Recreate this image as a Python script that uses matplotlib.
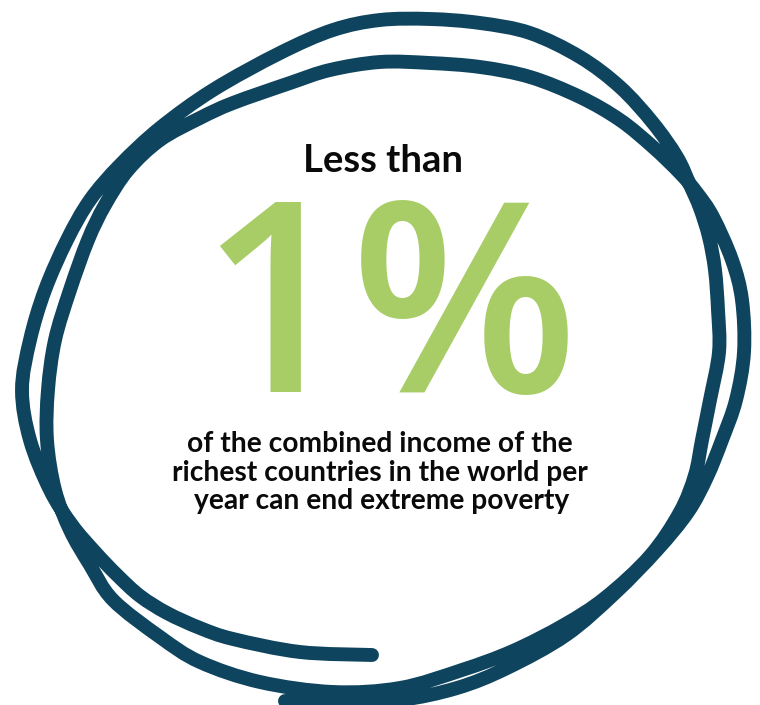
import matplotlib
matplotlib.use("Agg")
import matplotlib.pyplot as plt
from matplotlib.path import Path
from matplotlib.patches import PathPatch
import numpy as np

# text content
headline = "Less than"
big_value = "1%"
body_lines = ["of the combined income of the",
              "richest countries in the world per",
              "year can end extreme poverty"]

# hand drawn scribble, traced as one stroke (pixel coords, y down)
scribble = [(285, 701), (340, 702), (400, 700), (457, 688), (507, 668), (566, 635), (615, 593),
            (657, 550), (688, 512), (707, 477), (722, 440), (736, 400), (744, 352), (742, 300),
            (732, 260), (713, 217), (697, 193), (680, 173), (653, 147), (620, 120), (580, 97),
            (530, 77), (480, 67), (430, 63), (380, 62), (330, 70), (290, 83), (233, 103),
            (200, 118), (160, 140), (128, 170), (105, 205), (88, 240), (70, 290), (55, 340),
            (48, 390), (47, 440), (55, 490), (70, 530), (90, 565), (113, 600), (160, 637),
            (200, 662), (260, 682), (333, 692), (400, 688), (462, 670), (513, 651), (564, 625),
            (605, 598), (650, 556), (680, 512), (695, 475), (702, 440), (710, 400), (719, 352),
            (718, 310), (715, 270), (709, 237), (700, 208), (690, 185), (677, 157), (653, 123),
            (620, 87), (580, 57), (530, 33), (480, 23), (430, 19), (380, 20), (333, 30),
            (280, 53), (213, 90), (160, 128), (120, 165), (90, 200), (67, 240), (45, 290),
            (30, 340), (22, 390), (30, 440), (50, 490), (72, 525), (95, 552), (117, 575),
            (140, 596), (167, 613), (200, 628), (233, 639), (300, 652), (372, 655)]

navy = "#0e445e"
green = "#a8cd66"

fig = plt.figure(figsize=(7.6, 7.05), dpi=100)
ax = fig.add_axes([0, 0, 1, 1])
ax.set_xlim(0, 760)
ax.set_ylim(705, 0)
ax.axis("off")

# smooth path through the traced points (catmull-rom -> cubic bezier)
pts = np.array(scribble, dtype=float)
verts = [pts[0]]
codes = [Path.MOVETO]
n = len(pts)
for i in range(n - 1):
    p0 = pts[max(i - 1, 0)]
    p1 = pts[i]
    p2 = pts[i + 1]
    p3 = pts[min(i + 2, n - 1)]
    verts += [p1 + (p2 - p0) / 6, p2 - (p3 - p1) / 6, p2]
    codes += [Path.CURVE4] * 3
ax.add_patch(PathPatch(Path(verts, codes), fill=False, edgecolor=navy,
                       linewidth=10, capstyle="round", joinstyle="round"))

fig.canvas.draw()
renderer = fig.canvas.get_renderer()


def fit_text(x, y, s, width, family, weight, color):
    t = ax.text(x, y, s, ha="center", va="baseline", fontsize=20,
                family=family, weight=weight, color=color)
    w = t.get_window_extent(renderer).width
    t.set_fontsize(20 * width / w)
    return t


fit_text(383, 172, headline, 160, ["Lato", "DejaVu Sans"], "bold", "#0a0a0a")
fit_text(389, 392, big_value, 378, ["Open Sans", "DejaVu Sans"], "semibold", green)

t = fit_text(380, 452, body_lines[1], 415, ["Lato", "DejaVu Sans"], "bold", "#0a0a0a")
fs = t.get_fontsize()
t.remove()
for yy, line, xx in zip([452, 480.5, 508.5], body_lines, [380, 380, 382]):
    ax.text(xx, yy, line, ha="center", va="baseline", fontsize=fs,
            family=["Lato", "DejaVu Sans"], weight="bold", color="#0a0a0a")

fig.savefig("out.png", dpi=100, facecolor="white")
